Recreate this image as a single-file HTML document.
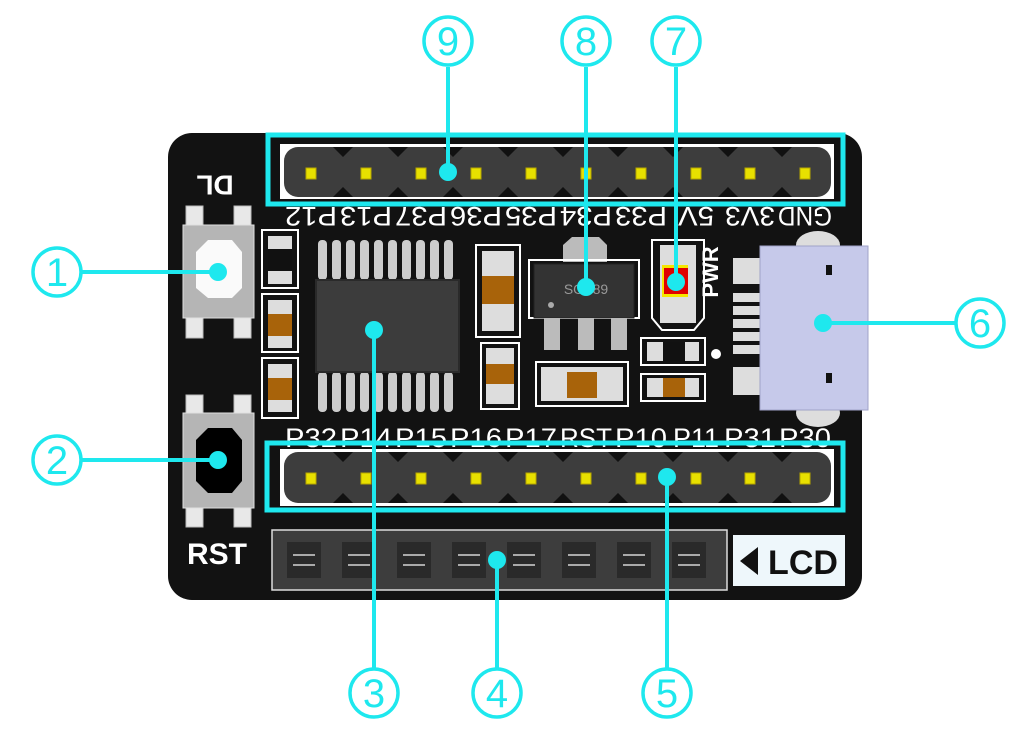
<!DOCTYPE html>
<html><head><meta charset="utf-8"><style>
html,body{margin:0;padding:0;background:#fff;}
svg{display:block;}
text{font-family:"Liberation Sans",sans-serif;}
</style></head><body>
<svg width="1035" height="737" viewBox="0 0 1035 737" xmlns="http://www.w3.org/2000/svg">
<rect x="168" y="133" width="694" height="467" rx="24" fill="#121212"/>

<g>
<rect x="186" y="206" width="17" height="22" fill="#e8e8e8" stroke="#bbb"/>
<rect x="234" y="206" width="17" height="22" fill="#e8e8e8" stroke="#bbb"/>
<rect x="186" y="315" width="17" height="23" fill="#e8e8e8" stroke="#bbb"/>
<rect x="234" y="315" width="17" height="23" fill="#e8e8e8" stroke="#bbb"/>
<rect x="183" y="225" width="71" height="93" fill="#b5b5b5" stroke="#e0e0e0"/>
<path d="M208 240 L232 240 L242 252 L242 288 L232 298 L208 298 L196 288 L196 252 Z" fill="#fafafa"/>
</g>
<text x="215" y="183" transform="rotate(180 215 183)" text-anchor="middle" dominant-baseline="middle" fill="#fff" font-size="28" font-weight="bold">DL</text>
<g>
<rect x="186" y="395" width="17" height="22" fill="#e8e8e8" stroke="#bbb"/>
<rect x="234" y="395" width="17" height="22" fill="#e8e8e8" stroke="#bbb"/>
<rect x="186" y="505" width="17" height="22" fill="#e8e8e8" stroke="#bbb"/>
<rect x="234" y="505" width="17" height="22" fill="#e8e8e8" stroke="#bbb"/>
<rect x="183" y="413" width="71" height="95" fill="#b5b5b5" stroke="#e0e0e0"/>
<path d="M208 428 L232 428 L242 440 L242 481 L232 493 L208 493 L196 481 L196 440 Z" fill="#000"/>
</g>
<text x="217" y="564" text-anchor="middle" fill="#fff" font-size="30" font-weight="bold">RST</text>

<g stroke="#fff" stroke-width="2" fill="none">
<rect x="262" y="230" width="36" height="58"/>
<rect x="262" y="294" width="36" height="58"/>
<rect x="262" y="358" width="36" height="60"/>
</g>
<g>
<rect x="268" y="236" width="24" height="48" fill="#ddd"/>
<rect x="268" y="249" width="24" height="22" fill="#111"/>
<rect x="268" y="300" width="24" height="48" fill="#ddd"/>
<rect x="268" y="314" width="24" height="22" fill="#a8630a"/>
<rect x="268" y="364" width="24" height="48" fill="#ddd"/>
<rect x="268" y="378" width="24" height="22" fill="#a8630a"/>
</g>

<g fill="#ccc">
<rect x="318" y="240" width="9" height="40" rx="4"/><rect x="332" y="240" width="9" height="40" rx="4"/><rect x="346" y="240" width="9" height="40" rx="4"/><rect x="360" y="240" width="9" height="40" rx="4"/><rect x="374" y="240" width="9" height="40" rx="4"/><rect x="388" y="240" width="9" height="40" rx="4"/><rect x="402" y="240" width="9" height="40" rx="4"/><rect x="416" y="240" width="9" height="40" rx="4"/><rect x="430" y="240" width="9" height="40" rx="4"/><rect x="444" y="240" width="9" height="40" rx="4"/>
<rect x="318" y="372" width="9" height="40" rx="4"/><rect x="332" y="372" width="9" height="40" rx="4"/><rect x="346" y="372" width="9" height="40" rx="4"/><rect x="360" y="372" width="9" height="40" rx="4"/><rect x="374" y="372" width="9" height="40" rx="4"/><rect x="388" y="372" width="9" height="40" rx="4"/><rect x="402" y="372" width="9" height="40" rx="4"/><rect x="416" y="372" width="9" height="40" rx="4"/><rect x="430" y="372" width="9" height="40" rx="4"/><rect x="444" y="372" width="9" height="40" rx="4"/>
</g>
<rect x="316" y="280" width="143" height="92" fill="#3c3c3c" stroke="#2a2a2a" stroke-width="2"/>

<rect x="476" y="245" width="44" height="92" fill="none" stroke="#fff" stroke-width="2"/>
<rect x="482" y="251" width="32" height="80" fill="#ddd"/>
<rect x="482" y="276" width="32" height="28" fill="#a8630a"/>
<rect x="481" y="343" width="38" height="66" fill="none" stroke="#fff" stroke-width="2"/>
<rect x="486" y="348" width="28" height="56" fill="#ddd"/>
<rect x="486" y="364" width="28" height="20" fill="#a8630a"/>

<path d="M563 262 L563 245 L572 237 L599 237 L607 245 L607 262 Z" fill="#bbb"/>
<rect x="529" y="260" width="110" height="58" fill="none" stroke="#fff" stroke-width="2"/>
<rect x="534" y="264" width="100" height="54" fill="#333" stroke="#222"/>
<text x="586" y="294" text-anchor="middle" fill="#999" font-size="14">SOT89</text>
<circle cx="551" cy="305" r="3" fill="#aaa"/>
<rect x="544" y="318" width="16" height="32" fill="#bbb"/>
<rect x="578" y="318" width="16" height="32" fill="#bbb"/>
<rect x="611" y="318" width="16" height="32" fill="#bbb"/>
<rect x="536" y="362" width="92" height="44" fill="none" stroke="#fff" stroke-width="2"/>
<rect x="541" y="367" width="82" height="34" fill="#ddd"/>
<rect x="567" y="372" width="30" height="26" fill="#a8630a"/>

<path d="M652 240 L704 240 L704 318 L694 330 L662 330 L652 318 Z" fill="none" stroke="#fff" stroke-width="2"/>
<rect x="660" y="245" width="36" height="78" fill="#ddd"/>
<rect x="662" y="265" width="26" height="32" fill="#f5e600"/>
<rect x="664" y="268" width="24" height="26" fill="#e00000"/>
<text x="712" y="272" transform="rotate(-90 712 272)" text-anchor="middle" dominant-baseline="middle" fill="#fff" font-size="22" font-weight="bold">PWR</text>
<rect x="641" y="338" width="64" height="27" fill="none" stroke="#fff" stroke-width="2"/>
<rect x="647" y="342" width="52" height="19" fill="#ddd"/>
<rect x="663" y="342" width="22" height="19" fill="#111"/>
<rect x="641" y="374" width="64" height="27" fill="none" stroke="#fff" stroke-width="2"/>
<rect x="647" y="378" width="52" height="19" fill="#ddd"/>
<rect x="663" y="378" width="22" height="19" fill="#a8630a"/>
<circle cx="716" cy="354" r="5" fill="#fff"/>

<rect x="733" y="258" width="30" height="26" fill="#ddd"/>
<rect x="733" y="293" width="30" height="9" fill="#ddd"/>
<rect x="733" y="306" width="30" height="9" fill="#ddd"/>
<rect x="733" y="319" width="30" height="9" fill="#ddd"/>
<rect x="733" y="332" width="30" height="9" fill="#ddd"/>
<rect x="733" y="345" width="30" height="9" fill="#ddd"/>
<rect x="733" y="367" width="30" height="28" fill="#ddd"/>
<ellipse cx="818" cy="245" rx="22" ry="14" fill="#ddd"/>
<ellipse cx="818" cy="413" rx="22" ry="14" fill="#ddd"/>
<rect x="760" y="246" width="108" height="164" fill="#c6c9ea" stroke="#a0a3c8"/>
<rect x="826" y="265" width="6" height="10" fill="#111"/>
<rect x="826" y="373" width="6" height="10" fill="#111"/>

<rect x="280" y="144" width="554" height="55" fill="#fff"/>
<rect x="284" y="147" width="547" height="50" rx="14" fill="#3d3d3d"/>
<g fill="#111">
<path d="M333 147 l10 10 l10 -10z"/><path d="M388 147 l10 10 l10 -10z"/><path d="M443 147 l10 10 l10 -10z"/><path d="M498 147 l10 10 l10 -10z"/><path d="M553 147 l10 10 l10 -10z"/><path d="M608 147 l10 10 l10 -10z"/><path d="M663 147 l10 10 l10 -10z"/><path d="M718 147 l10 10 l10 -10z"/><path d="M772 147 l10 10 l10 -10z"/>
<path d="M333 197 l10 -10 l10 10z"/><path d="M388 197 l10 -10 l10 10z"/><path d="M443 197 l10 -10 l10 10z"/><path d="M498 197 l10 -10 l10 10z"/><path d="M553 197 l10 -10 l10 10z"/><path d="M608 197 l10 -10 l10 10z"/><path d="M663 197 l10 -10 l10 10z"/><path d="M718 197 l10 -10 l10 10z"/><path d="M772 197 l10 -10 l10 10z"/>
</g>
<g fill="#e8e000" stroke="#b8a800">
<rect x="306" y="168" width="10" height="11"/><rect x="361" y="168" width="10" height="11"/><rect x="416" y="168" width="10" height="11"/><rect x="471" y="168" width="10" height="11"/><rect x="526" y="168" width="10" height="11"/><rect x="581" y="168" width="10" height="11"/><rect x="636" y="168" width="10" height="11"/><rect x="691" y="168" width="10" height="11"/><rect x="745" y="168" width="10" height="11"/><rect x="800" y="168" width="10" height="11"/>
</g>
<rect x="268" y="135" width="575" height="69" fill="none" stroke="#1ee8ee" stroke-width="5"/>
<g fill="#fff" font-size="27" text-anchor="middle" lengthAdjust="spacingAndGlyphs">
<text transform="rotate(180 311 217)" x="311" y="227" textLength="52" lengthAdjust="spacingAndGlyphs">P12</text>
<text transform="rotate(180 366 217)" x="366" y="227" textLength="52" lengthAdjust="spacingAndGlyphs">P13</text>
<text transform="rotate(180 421 217)" x="421" y="227" textLength="52" lengthAdjust="spacingAndGlyphs">P37</text>
<text transform="rotate(180 476 217)" x="476" y="227" textLength="52" lengthAdjust="spacingAndGlyphs">P36</text>
<text transform="rotate(180 531 217)" x="531" y="227" textLength="52" lengthAdjust="spacingAndGlyphs">P35</text>
<text transform="rotate(180 586 217)" x="586" y="227" textLength="52" lengthAdjust="spacingAndGlyphs">P34</text>
<text transform="rotate(180 641 217)" x="641" y="227" textLength="52" lengthAdjust="spacingAndGlyphs">P33</text>
<text transform="rotate(180 696 217)" x="696" y="227" textLength="36" lengthAdjust="spacingAndGlyphs">5V</text>
<text transform="rotate(180 750 217)" x="750" y="227" textLength="50" lengthAdjust="spacingAndGlyphs">3V3</text>
<text transform="rotate(180 805 217)" x="805" y="227" textLength="54" lengthAdjust="spacingAndGlyphs">GND</text>
</g>

<g fill="#fff" font-size="27" text-anchor="middle">
<text x="311" y="447" textLength="52" lengthAdjust="spacingAndGlyphs">P32</text><text x="366" y="447" textLength="52" lengthAdjust="spacingAndGlyphs">P14</text><text x="421" y="447" textLength="52" lengthAdjust="spacingAndGlyphs">P15</text><text x="476" y="447" textLength="52" lengthAdjust="spacingAndGlyphs">P16</text><text x="531" y="447" textLength="52" lengthAdjust="spacingAndGlyphs">P17</text><text x="586" y="447" textLength="52" lengthAdjust="spacingAndGlyphs">RST</text><text x="641" y="447" textLength="52" lengthAdjust="spacingAndGlyphs">P10</text><text x="696" y="447" textLength="46" lengthAdjust="spacingAndGlyphs">P11</text><text x="750" y="447" textLength="52" lengthAdjust="spacingAndGlyphs">P31</text><text x="805" y="447" textLength="52" lengthAdjust="spacingAndGlyphs">P30</text>
</g>
<rect x="280" y="449" width="554" height="57" fill="#fff"/>
<rect x="284" y="452" width="547" height="51" rx="14" fill="#3d3d3d"/>
<g fill="#111">
<path d="M333 452 l10 10 l10 -10z"/><path d="M388 452 l10 10 l10 -10z"/><path d="M443 452 l10 10 l10 -10z"/><path d="M498 452 l10 10 l10 -10z"/><path d="M553 452 l10 10 l10 -10z"/><path d="M608 452 l10 10 l10 -10z"/><path d="M663 452 l10 10 l10 -10z"/><path d="M718 452 l10 10 l10 -10z"/><path d="M772 452 l10 10 l10 -10z"/>
<path d="M333 503 l10 -10 l10 10z"/><path d="M388 503 l10 -10 l10 10z"/><path d="M443 503 l10 -10 l10 10z"/><path d="M498 503 l10 -10 l10 10z"/><path d="M553 503 l10 -10 l10 10z"/><path d="M608 503 l10 -10 l10 10z"/><path d="M663 503 l10 -10 l10 10z"/><path d="M718 503 l10 -10 l10 10z"/><path d="M772 503 l10 -10 l10 10z"/>
</g>
<g fill="#e8e000" stroke="#b8a800">
<rect x="306" y="473" width="10" height="11"/><rect x="361" y="473" width="10" height="11"/><rect x="416" y="473" width="10" height="11"/><rect x="471" y="473" width="10" height="11"/><rect x="526" y="473" width="10" height="11"/><rect x="581" y="473" width="10" height="11"/><rect x="636" y="473" width="10" height="11"/><rect x="691" y="473" width="10" height="11"/><rect x="745" y="473" width="10" height="11"/><rect x="800" y="473" width="10" height="11"/>
</g>
<rect x="267" y="443" width="576" height="67" fill="none" stroke="#1ee8ee" stroke-width="5"/>

<rect x="272" y="530" width="455" height="60" fill="#3d3d3d" stroke="#ddd" stroke-width="1.5"/>
<g fill="#2a2a2a">
<rect x="287" y="542" width="34" height="36"/><rect x="342" y="542" width="34" height="36"/><rect x="397" y="542" width="34" height="36"/><rect x="452" y="542" width="34" height="36"/><rect x="507" y="542" width="34" height="36"/><rect x="562" y="542" width="34" height="36"/><rect x="617" y="542" width="34" height="36"/><rect x="672" y="542" width="34" height="36"/>
</g>
<g stroke="#aaa" stroke-width="2">
<path d="M293 555h22M293 565h22M348 555h22M348 565h22M403 555h22M403 565h22M458 555h22M458 565h22M513 555h22M513 565h22M568 555h22M568 565h22M623 555h22M623 565h22M678 555h22M678 565h22"/>
</g>
<rect x="733" y="535" width="112" height="51" fill="#eef7fb"/>
<path d="M740 561 L758 547 L758 575 Z" fill="#111"/>
<text x="803" y="574" text-anchor="middle" fill="#111" font-size="34" font-weight="bold">LCD</text>

<g stroke="#1ee8ee" stroke-width="4" fill="none">
<path d="M82 272H218M82 460H218M374 330V668M497 560V668M667 477V668M823 323H955M676 282V67M586 287V67M448 172V67"/>
</g>
<g fill="#1ee8ee">
<circle cx="218" cy="272" r="9"/><circle cx="218" cy="460" r="9"/><circle cx="374" cy="330" r="9"/><circle cx="497" cy="560" r="9"/><circle cx="667" cy="477" r="9"/><circle cx="823" cy="323" r="9"/><circle cx="676" cy="282" r="9"/><circle cx="586" cy="287" r="9"/><circle cx="448" cy="172" r="9"/>
</g>
<g fill="#fff" stroke="#1ee8ee" stroke-width="3.5">
<circle cx="57" cy="272" r="24"/><circle cx="57" cy="460" r="24"/><circle cx="374" cy="693" r="24"/><circle cx="497" cy="693" r="24"/><circle cx="667" cy="693" r="24"/><circle cx="980" cy="323" r="24"/><circle cx="676" cy="41" r="24"/><circle cx="586" cy="41" r="24"/><circle cx="448" cy="41" r="24"/>
</g>
<g fill="#1ee8ee" font-size="40" text-anchor="middle">
<text x="57" y="286">1</text><text x="57" y="474">2</text><text x="374" y="707">3</text><text x="497" y="707">4</text><text x="667" y="707">5</text><text x="980" y="337">6</text><text x="676" y="55">7</text><text x="586" y="55">8</text><text x="448" y="55">9</text>
</g>
</svg>
</body></html>
